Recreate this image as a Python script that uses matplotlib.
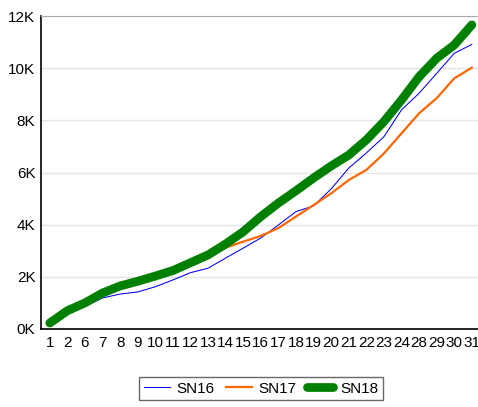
import matplotlib.pyplot as plt
from matplotlib.ticker import FuncFormatter

plt.rcParams['font.family'] = ['Liberation Sans', 'DejaVu Sans']

days = ["1", "2", "6", "7", "8", "9", "10", "11", "12", "13", "14", "15", "16",
        "17", "18", "19", "20", "21", "22", "23", "24", "28", "29", "30", "31"]

sn16 = [230, 700, 880, 1190, 1340, 1420, 1620, 1880, 2160, 2330, 2720, 3100, 3490,
        3990, 4500, 4720, 5370, 6170, 6750, 7370, 8400, 9040, 9800, 10570, 10910]
sn17 = [230, 750, 1080, 1350, 1580, 1760, 1990, 2200, 2500, 2820, 3120, 3350, 3570,
        3870, 4310, 4750, 5200, 5710, 6100, 6730, 7500, 8270, 8850, 9610, 10020]
sn18 = [230, 700, 1000, 1380, 1650, 1830, 2030, 2240, 2540, 2840, 3260, 3730, 4310,
        4830, 5300, 5790, 6250, 6670, 7250, 7950, 8780, 9670, 10380, 10890, 11660]

fig = plt.figure(figsize=(4.78, 4.07), dpi=100)
ax = fig.add_axes([41 / 478, 78 / 407, 437 / 478, 313 / 407])

x = range(len(days))
ax.plot(x, sn16, color='#0000ff', lw=0.75, label='SN16')
ax.plot(x, sn17, color='#ff6600', lw=1.6, label='SN17')
ax.plot(x, sn18, color='#008000', lw=6.3, solid_capstyle='round', label='SN18')

ax.set_xlim(-0.5, 24.35)
ax.set_ylim(0, 12000)
ax.set_yticks(range(0, 12001, 2000))
ax.yaxis.set_major_formatter(FuncFormatter(lambda v, p: f"{int(v / 1000)}K"))
ax.set_xticks(list(x))
ax.set_xticklabels(days)
ax.tick_params(length=0, labelsize=11, colors='black')
ax.tick_params(axis='x', pad=5)
ax.tick_params(axis='y', pad=4)

ax.grid(axis='y', color='#e4e4e4', lw=1)
ax.set_axisbelow(True)
ax.spines['right'].set_visible(False)
ax.spines['top'].set_color('#aaaaaa')
ax.spines['left'].set_color('black')
ax.spines['bottom'].set_color('black')
ax.spines['left'].set_linewidth(1.2)
ax.spines['bottom'].set_linewidth(1.2)

leg = fig.legend(loc='upper center', bbox_to_anchor=(261 / 478, 1 - 377 / 407),
                 ncol=3, fontsize=11, frameon=True, fancybox=False,
                 handlelength=1.7, columnspacing=0.7, handletextpad=0.45,
                 borderpad=0.3, borderaxespad=0)
leg.get_frame().set_edgecolor('#444444')
leg.get_frame().set_linewidth(1)

fig.savefig('out.png', dpi=100)
